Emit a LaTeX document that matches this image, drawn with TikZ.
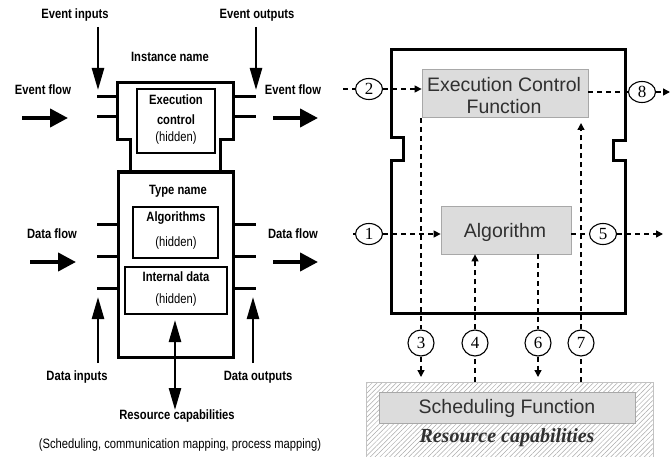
\documentclass[tikz,border=0pt]{standalone}
\usepackage{fontspec}
\setmainfont{Liberation Sans}
\newfontfamily\narrowsans{Liberation Sans}[FakeStretch=0.83]
\newfontfamily\serifnum{Liberation Serif}
\usetikzlibrary{arrows.meta,patterns.meta,shapes.geometric}

\definecolor{boxgray}{HTML}{DCDCDC}
\definecolor{bordergray}{HTML}{A8A8A8}
\definecolor{txtgray}{HTML}{303030}
\definecolor{hatchgray}{HTML}{ABABAB}

\tikzset{
  lbl/.style={font=\narrowsans\bfseries\fontsize{13.5}{15}\selectfont, inner sep=0pt},
  lblplain/.style={font=\narrowsans\fontsize{13.5}{15}\selectfont, inner sep=0pt},
  pinline/.style={line width=3pt},
  outline/.style={line width=3pt, line join=miter},
  innerbox/.style={draw, line width=2pt, inner sep=0pt},
  bigarrow/.style={line width=4pt, -{Triangle[length=18pt,width=18pt]}},
  vertarrow/.style={line width=2.5pt, -{Triangle[length=22pt,width=12pt]}},
  bothvert/.style={line width=2.5pt, {Triangle[length=22pt,width=12pt]}-{Triangle[length=22pt,width=12pt]}},
  funcbox/.style={fill=boxgray, draw=bordergray, line width=0.8pt, inner sep=0pt},
  functext/.style={font=\fontsize{19.5}{22}\selectfont, text=txtgray, inner sep=0pt, align=center},
  numflat/.style={ellipse, draw, line width=1.1pt, minimum width=27pt, minimum height=21pt, inner sep=0pt, font=\serifnum\fontsize{17}{17}\selectfont},
  numround/.style={circle, draw, line width=1.1pt, minimum size=26pt, inner sep=0pt, font=\serifnum\fontsize{17}{17}\selectfont},
  dashline/.style={dash pattern=on 5pt off 4pt, line width=1.4pt},
  dasharrow/.style={dashline, -{Triangle[length=7pt,width=7pt]}},
}

\begin{document}
\begin{tikzpicture}[x=1pt,y=-1pt]
\useasboundingbox (0,0) rectangle (671,457);

% ---------------- Function block interface (left) ----------------
% instance header outline
\draw[outline] (130,172) -- (130,140) -- (117,140) -- (117,83) -- (233,83)
               -- (233,140) -- (220,140) -- (220,172);
% type body
\node[draw, line width=3pt, minimum width=115pt, minimum height=185pt, inner sep=0pt] (typebox) at (175.5,264.5) {};

% inner boxes
\node[innerbox, minimum width=78pt, minimum height=64pt] (ecbox) at (176,121) {};
\node[lbl] (ectxt1) at (176,100) {Execution};
\node[lbl] (ectxt2) at (176,120) {control};
\node[lblplain] (ectxt3) at (176,138) {(hidden)};

\node[innerbox, minimum width=85pt, minimum height=51pt] (algbox) at (175.5,232.5) {};
\node[lbl] (algtxt1) at (176,218) {Algorithms};
\node[lblplain] (algtxt2) at (176,243) {(hidden)};

\node[innerbox, minimum width=102pt, minimum height=47pt] (databox) at (176,290.5) {};
\node[lbl] (datatxt1) at (176,277) {Internal data};
\node[lblplain] (datatxt2) at (176,300) {(hidden)};

\node[lbl] (instname) at (170,57) {Instance name};
\node[lbl] (typename) at (178,191) {Type name};

% pins
\foreach \yy in {97,117} {
  \draw[pinline] (97,\yy) -- (117,\yy);
  \draw[pinline] (233,\yy) -- (256,\yy);
}
\foreach \yy in {224,256,288} {
  \draw[pinline] (97,\yy) -- (118,\yy);
  \draw[pinline] (233,\yy) -- (256,\yy);
}

% labels
\node[lbl] (evin) at (75,15) {Event inputs};
\node[lbl] (evout) at (257,15) {Event outputs};
\node[lbl] (evflowL) at (43,90) {Event flow};
\node[lbl] (evflowR) at (293,90) {Event flow};
\node[lbl] (dflowL) at (52,234) {Data flow};
\node[lbl] (dflowR) at (293,234) {Data flow};
\node[lbl] (din) at (77,377) {Data inputs};
\node[lbl] (dout) at (258,377) {Data outputs};
\node[lbl] (rescap) at (177,416) {Resource capabilities};
\node[lblplain] (resnote) at (180,445) {(Scheduling, communication mapping, process mapping)};

% arrow end points
\coordinate (evinA) at (98,27);   \coordinate (evinB) at (98,90);
\coordinate (evoutA) at (256,27); \coordinate (evoutB) at (256,90);
\coordinate (efLA) at (22,118);   \coordinate (efLB) at (68,118);
\coordinate (efRA) at (273,118);  \coordinate (efRB) at (318,118);
\coordinate (dfLA) at (30,262);   \coordinate (dfLB) at (76,262);
\coordinate (dfRA) at (273,262);  \coordinate (dfRB) at (318,262);
\coordinate (dinA) at (98,363);   \coordinate (dinB) at (98,297);
\coordinate (doutA) at (253,363); \coordinate (doutB) at (253,297);
\coordinate (resA) at (175,320);  \coordinate (resB) at (175,410);

\draw[vertarrow] (evinA) -- (evinB);
\draw[vertarrow] (evoutA) -- (evoutB);
\draw[bigarrow] (efLA) -- (efLB);
\draw[bigarrow] (efRA) -- (efRB);
\draw[bigarrow] (dfLA) -- (dfLB);
\draw[bigarrow] (dfRA) -- (dfRB);
\draw[vertarrow] (dinA) -- (dinB);
\draw[vertarrow] (doutA) -- (doutB);
\draw[bothvert] (resA) -- (resB);

% ---------------- Execution model (right) ----------------
% resource capabilities area
\begin{scope}
\clip (0,0) rectangle (671,457);
\fill[white] (366,382) rectangle (653,470);
\fill[pattern={Lines[angle=45,distance=3.4pt,line width=0.5pt]}, pattern color=hatchgray]
  (366,382) rectangle (653,470);
\draw[draw=bordergray!70, line width=0.8pt] (366,470) -- (366,382) -- (653,382) -- (653,470);
\end{scope}
\node[funcbox, minimum width=256pt, minimum height=31pt] (sched) at (507,407.5) {};
\node[functext] (schedtxt) at (507,408) {Scheduling Function};
\node[font=\serifnum\bfseries\itshape\fontsize{20}{22}\selectfont, text=txtgray, inner sep=0pt] (restxt) at (507,438) {Resource capabilities};

% block outline with notches
\draw[outline] (391,50) -- (625,50) -- (625,141) -- (613,141) -- (613,161) -- (625,161)
  -- (625,313) -- (391,313) -- (391,161) -- (403,161) -- (403,138) -- (391,138) -- cycle;

\node[funcbox, minimum width=166pt, minimum height=48pt] (ecf) at (505,93) {};
\node[functext] (ecftxt) at (504,96) {Execution Control\\Function};
\node[funcbox, minimum width=130pt, minimum height=48pt] (alg) at (506,230) {};
\node[functext] (algtxt) at (505,232) {Algorithm};

% numbered events
\node[numflat] (n2) at (369,89) {2};
\node[numflat] (n8) at (642,92) {8};
\node[numflat] (n1) at (369,234) {1};
\node[numflat] (n5) at (603,234) {5};
\node[numround] (n3) at (421,343) {3};
\node[numround] (n4) at (475,343) {4};
\node[numround] (n6) at (538,343) {6};
\node[numround] (n7) at (581,343) {7};

\coordinate (in2) at (343,89);
\coordinate (out8) at (670,92);
\coordinate (in1) at (353,234);
\coordinate (out5) at (663,234);
\coordinate (top3) at (421,118);  \coordinate (end3) at (421,377);
\coordinate (beg4) at (475,382);
\coordinate (end6) at (538,377);
\coordinate (beg7) at (581,382);  \coordinate (end7) at (581,123);

\draw[dashline] (in2) -- (n2);
\draw[dasharrow] (n2) -- (ecf.west |- n2);
\draw[dashline] (ecf.east |- n8) -- (n8);
\draw[dasharrow] (n8) -- (out8);
\draw[dashline] (in1) -- (n1);
\draw[dasharrow] (n1) -- (alg.west |- n1);
\draw[dashline] (alg.east |- n5) -- (n5);
\draw[dasharrow] (n5) -- (out5);
\draw[dashline] (top3) -- (n3);
\draw[dasharrow] (n3) -- (end3);
\draw[dashline] (beg4) -- (n4);
\draw[dasharrow] (n4) -- (alg.south -| n4);
\draw[dashline] (alg.south -| n6) -- (n6);
\draw[dasharrow] (n6) -- (end6);
\draw[dashline] (beg7) -- (n7);
\draw[dasharrow] (n7) -- (end7);
\end{tikzpicture}
\end{document}
